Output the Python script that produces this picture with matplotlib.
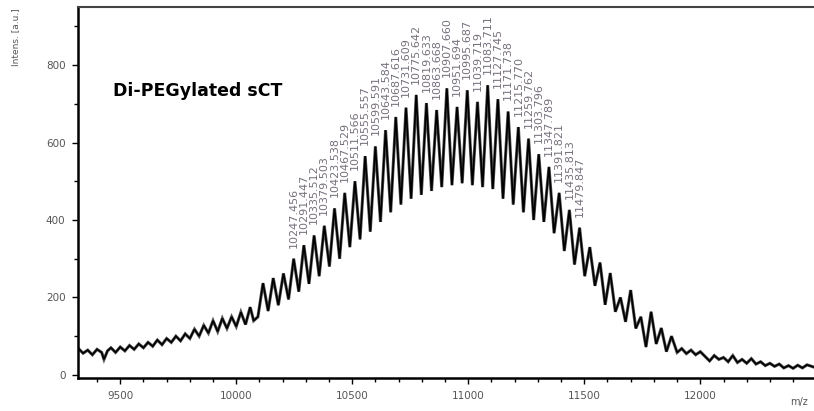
"""MALDI spectrum of di-PEGylated sCT with labelled PEG oligomer peaks"""
import numpy as np
import matplotlib
matplotlib.use("Agg")
import matplotlib.pyplot as plt
from matplotlib.ticker import MultipleLocator

# noisy baseline below the PEG envelope
left_mz = [9320, 9340, 9360, 9380, 9400, 9420, 9430, 9445, 9460, 9480,
           9500, 9520, 9540, 9560, 9580, 9600, 9620, 9640, 9660, 9680,
           9700, 9720, 9740, 9760, 9780, 9800, 9820, 9840, 9860, 9880,
           9900, 9920, 9940, 9960, 9980, 10000, 10020, 10040, 10060, 10075]
left_int = [68, 56, 64, 52, 66, 58, 40, 62, 70, 58,
            72, 62, 76, 66, 80, 70, 84, 74, 90, 78,
            94, 84, 100, 88, 106, 94, 118, 100, 128, 108,
            140, 112, 146, 120, 150, 125, 162, 130, 175, 140]

# PEG oligomer peaks (44 Da ladder): apex m/z, apex intensity, valley before apex
peak_mz = [10115.380, 10159.402, 10203.431, 10247.456, 10291.447, 10335.512,
           10379.503, 10423.538, 10467.529, 10511.566, 10555.557, 10599.591,
           10643.584, 10687.616, 10731.609, 10775.642, 10819.633, 10863.668,
           10907.660, 10951.694, 10995.687, 11039.719, 11083.711, 11127.745,
           11171.738, 11215.770, 11259.762, 11303.796, 11347.789, 11391.821,
           11435.813, 11479.847, 11523.840, 11567.872, 11611.865, 11655.898,
           11699.890, 11743.921, 11787.915, 11831.947, 11875.940]
peak_int = [237, 250, 262, 300, 335, 360,
            385, 430, 470, 500, 565, 590,
            632, 666, 690, 723, 702, 684,
            740, 692, 735, 705, 748, 712,
            680, 640, 610, 570, 537, 470,
            426, 380, 330, 290, 263, 200,
            219, 150, 163, 121, 100]
trough_int = [150, 165, 180, 195, 215, 235,
              255, 280, 300, 330, 350, 370,
              395, 420, 440, 455, 465, 475,
              485, 490, 495, 490, 485, 480,
              455, 440, 420, 400, 395, 366,
              320, 285, 255, 230, 181, 163,
              137, 120, 72, 80, 60]

# noisy baseline above the envelope
right_mz = [11900, 11920, 11940, 11960, 11980, 12000, 12020, 12040, 12060, 12080,
            12100, 12120, 12140, 12160, 12180, 12200, 12220, 12240, 12260, 12280,
            12300, 12320, 12340, 12360, 12380, 12400, 12420, 12440, 12460, 12490]
right_int = [58, 68, 55, 64, 52, 60, 48, 36, 50, 40,
             45, 34, 50, 32, 40, 30, 42, 28, 34, 24,
             30, 22, 28, 18, 24, 17, 25, 18, 26, 20]

label_range = (10240, 11490)

x_ticks = [9500, 10000, 10500, 11000, 11500, 12000]
y_ticks = [0, 200, 400, 600, 800]

# interleave valleys and apexes into one trace
p_mz = np.array(peak_mz)
ladder_mz = np.column_stack([p_mz - 22, p_mz]).ravel()
ladder_int = np.column_stack([trough_int, peak_int]).ravel()
mz = np.concatenate([left_mz, ladder_mz, right_mz])
intens = np.concatenate([left_int, ladder_int, right_int])

fig = plt.figure(figsize=(8.14, 4.11), dpi=100)
ax = fig.add_axes([78 / 814, 33 / 411, 736 / 814, 371 / 411])

# grey halo under the black trace gives the thick raw-data look
ax.plot(mz, intens, color="#555555", lw=2.2, solid_joinstyle="miter")
ax.plot(mz, intens, color="black", lw=1.2, solid_joinstyle="miter")

# peak annotations
for m, h in zip(peak_mz, peak_int):
    if label_range[0] <= m <= label_range[1]:
        ax.annotate(f"{m:.3f}", xy=(m, h), xytext=(0, 8),
                    textcoords="offset points", rotation=90,
                    ha="center", va="bottom", fontsize=8,
                    color="#77707c")

ax.set_xlim(9318, 12490)
ax.set_ylim(-8, 950)

ax.set_xticks(x_ticks)
ax.set_yticks(y_ticks)
ax.xaxis.set_minor_locator(MultipleLocator(100))
ax.yaxis.set_minor_locator(MultipleLocator(100))
ax.tick_params(which="major", direction="out", length=4, width=1,
               labelsize=7.5, labelcolor="#555555", pad=5)
ax.tick_params(which="minor", direction="out", length=3, width=1)

ax.spines["right"].set_visible(False)
ax.spines["left"].set_linewidth(1.8)
ax.spines["bottom"].set_linewidth(1.8)
ax.spines["top"].set_linewidth(1.5)
ax.spines["top"].set_color("#444444")

fig.text(113 / 814, 1 - 96 / 411, "Di-PEGylated sCT", fontsize=12.5,
         fontweight="bold", family="DejaVu Sans", va="baseline", ha="left")
fig.text(16 / 814, 1 - 8 / 411, "Intens. [a.u.]", rotation=90,
         fontsize=6.5, color="#555555", va="top", ha="center")
fig.text(790 / 814, 1 - 402 / 411, "m/z", fontsize=7, color="#555555",
         va="center", ha="left")

fig.savefig("out.png", dpi=100)
plt.close(fig)
